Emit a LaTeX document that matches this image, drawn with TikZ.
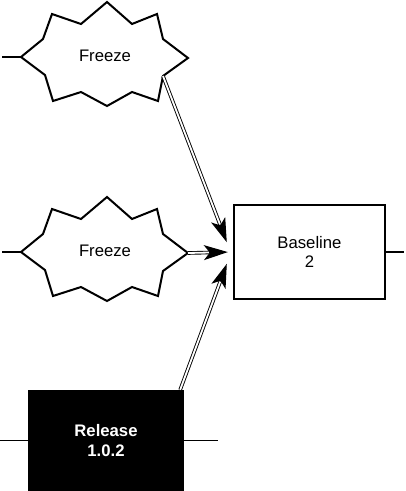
\documentclass[tikz,border=0pt]{standalone}
\usepackage{fontspec}
\setmainfont{Liberation Sans}
\usetikzlibrary{arrows.meta}

\tikzset{
  burst/.style={line width=2pt, line join=miter},
  stub/.style={line width=1.3pt},
  box/.style={draw, line width=2.3pt, align=center},
  head/.style={line width=1.2pt, -{Stealth[length=24pt,width=15pt,inset=6pt]}, shorten >=3pt},
  link/.style={double, double distance=1.8pt, line width=0.9pt, shorten >=22pt},
}

% starburst outline round a named node
\newcommand\burstpath[1]{%
  \draw[burst, shift={(#1.center)}] (-84,1) coordinate (#1-w) -- (-62,-17) -- (-53,-42)
    -- (-24,-32) -- (2,-54) -- (27,-32) -- (52,-42) -- (58,-17) -- (83,2) coordinate (#1-e)
    -- (58,20) coordinate (#1-se) -- (53,45) -- (27,36) -- (2,50) -- (-24,36) -- (-52,45)
    -- (-60,19) -- cycle;}

\begin{document}
\begin{tikzpicture}[x=1pt,y=-1pt,font=\fontsize{16.7}{19.5}\selectfont]
\useasboundingbox (0,0) rectangle (406,491);

\node (fza) at (105,56) {Freeze};
\node (fzb) at (105,251) {Freeze};
\burstpath{fza}
\burstpath{fzb}

\node[box, minimum width=151pt, minimum height=94pt] (base) at (309.5,252) {Baseline\\2};
\node[box, fill=black, text=white, font=\fontsize{16.7}{19.5}\selectfont\bfseries,
  minimum width=154pt, minimum height=99pt] (rel) at (106,440.5) {Release\\1.0.2};
\coordinate (rel-ne) at ([xshift=-4pt]rel.north east);

\draw[stub] (fza-w) -- ++(-19,0);
\draw[stub] (fzb-w) -- ++(-19,0);
\draw[stub] (base.east) -- ++(18,0);
\draw[stub] (rel.west) -- ++(-29,0);
\draw[stub] (rel.east) -- ++(34,0);

\foreach \src/\dx/\dy in {fza-se/-5/-7, fzb-e/-2/0, rel-ne/-5/9}{
  \draw[head] (\src) -- ([shift={(\dx,\dy)}]base.west);
  \draw[link] (\src) -- ([shift={(\dx,\dy)}]base.west);
}

\end{tikzpicture}
\end{document}
